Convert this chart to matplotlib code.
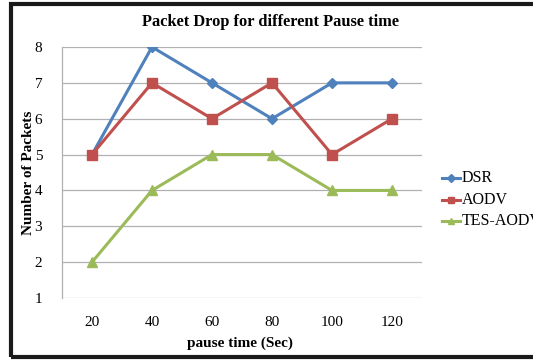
import matplotlib
matplotlib.use("Agg")
import matplotlib.pyplot as plt
from matplotlib.patches import Rectangle
from matplotlib.lines import Line2D

categories = ["20", "40", "60", "80", "100", "120"]
dsr = [5, 8, 7, 6, 7, 7]
aodv = [5, 7, 6, 7, 5, 6]
tes_aodv = [2, 4, 5, 5, 4, 4]
series_names = ["DSR", "AODV", "TES-AODV"]
colors = ["#4F81BD", "#C0504D", "#9BBB59"]
markers = ["D", "s", "^"]

plt.rcParams['font.family'] = ['Liberation Serif', 'DejaVu Serif']

W, H = 533, 360
fig = plt.figure(figsize=(W/100, H/100), dpi=100)

def fx(px):
    return px / W

def fy(py):
    return 1 - py / H

# outer frame
fig.add_artist(Rectangle((fx(11), fy(357)), 560/W, (357-4)/H, transform=fig.transFigure,
                         fill=False, edgecolor="#1a1a1a", linewidth=3.0, clip_on=False))

ax = fig.add_axes([fx(62), fy(298), (422-62)/W, (298-47)/H])
x = list(range(len(categories)))
for vals, name, c, m in zip([dsr, aodv, tes_aodv], series_names, colors, markers):
    ms = 5.5 if m == "D" else 7
    ax.plot(x, vals, color=c, linewidth=2.2, marker=m, markersize=ms,
            markerfacecolor=c, markeredgecolor=c, label=name, zorder=3)

ax.set_xlim(-0.5, len(categories) - 0.5)
ax.set_ylim(1, 8)
ax.set_yticks(range(1, 9))
ax.set_xticks(x)
ax.set_xticklabels(categories)
ax.grid(axis="y", color="#b0b0b0", linewidth=0.9)
ax.set_axisbelow(True)
for s in ["top", "right", "bottom"]:
    ax.spines[s].set_visible(False)
ax.spines["left"].set_color("#b0b0b0")
ax.spines["left"].set_linewidth(0.9)
ax.tick_params(axis="both", length=0, labelsize=11, colors="black")
ax.tick_params(axis="x", pad=13)
for lbl in ax.get_yticklabels():
    lbl.set_horizontalalignment("center")
ax.tick_params(axis="y", pad=17)

fig.text(fx(270), fy(22), "Packet Drop for different Pause time", fontsize=11.8,
         fontweight="bold", ha="center", va="center")
fig.text(fx(240), fy(343), "pause time (Sec)", fontsize=11, fontweight="bold",
         ha="center", va="center")
fig.text(fx(28), fy(173), "Number of Packets", fontsize=11, fontweight="bold",
         ha="center", va="center", rotation=90)

# legend
leg_y = [178, 200, 221]
for name, c, m, yy in zip(series_names, colors, markers, leg_y):
    fig.add_artist(Line2D([fx(442), fx(460)], [fy(yy), fy(yy)], color=c, linewidth=2.2,
                          transform=fig.transFigure))
    fig.add_artist(Line2D([fx(451)], [fy(yy)], color=c, marker=m, markersize=4.5,
                          markerfacecolor=c, markeredgecolor=c, linestyle="none",
                          transform=fig.transFigure))
    fig.text(fx(461.5), fy(yy), name, fontsize=11.5, ha="left", va="center")

fig.savefig("out.png", dpi=100)
